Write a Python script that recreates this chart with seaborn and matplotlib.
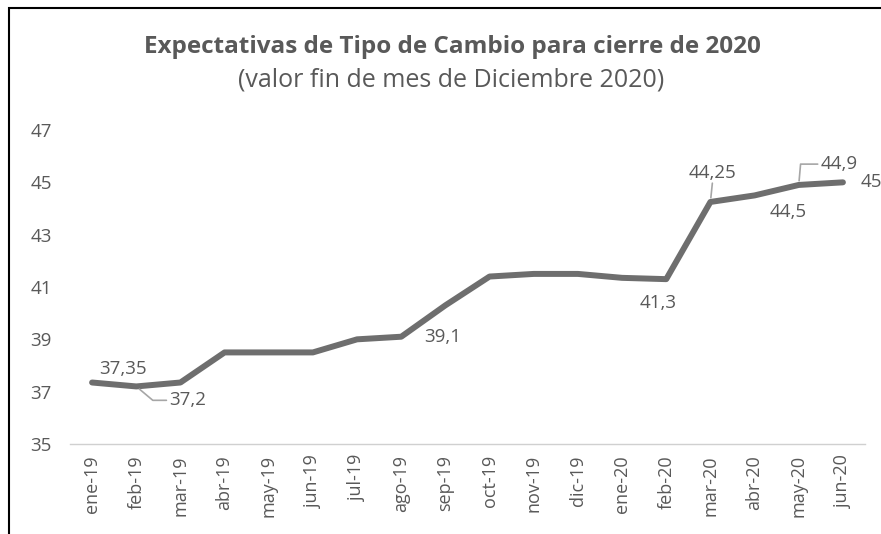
import matplotlib
matplotlib.use('Agg')
import matplotlib.pyplot as plt
import matplotlib.patches as mpatches
import pandas as pd
import seaborn as sns

months = ['ene-19', 'feb-19', 'mar-19', 'abr-19', 'may-19', 'jun-19', 'jul-19', 'ago-19',
          'sep-19', 'oct-19', 'nov-19', 'dic-19', 'ene-20', 'feb-20', 'mar-20', 'abr-20',
          'may-20', 'jun-20']
values = [37.35, 37.2, 37.35, 38.5, 38.5, 38.5, 39.0, 39.1, 40.3, 41.4, 41.5, 41.5,
          41.35, 41.3, 44.25, 44.5, 44.9, 45.0]
yticks = [35, 37, 39, 41, 43, 45, 47]

GREY = '#595959'
LINE = '#6e6e6e'
LEADER = '#a6a6a6'

sns.set_style('white')
plt.rcParams['font.family'] = ['Open Sans', 'DejaVu Sans']

df = pd.DataFrame({'mes': months, 'valor': values})

fig = plt.figure(figsize=(8.81, 5.34), dpi=100)
ax = fig.add_axes([70 / 881, 1 - 444 / 534, 795 / 881, (444 - 130) / 534])

sns.lineplot(data=df, x='mes', y='valor', ax=ax, color=LINE, linewidth=4.3, sort=False)

ax.set_ylim(35, 47)
ax.set_xlim(-0.5, len(months) - 0.5)
ax.set_yticks(yticks)
ax.set_yticklabels([str(t) for t in yticks], fontsize=13.5, color=GREY)
ax.set_xticks(range(len(months)))
ax.set_xticklabels(months, rotation=90, fontsize=13, color=GREY)
ax.tick_params(axis='y', length=0, pad=13)
ax.tick_params(axis='x', length=0, pad=8)
ax.set_xlabel('')
ax.set_ylabel('')
for side in ['top', 'right', 'left']:
    ax.spines[side].set_visible(False)
ax.spines['bottom'].set_color('#d0d0d0')
ax.spines['bottom'].set_linewidth(1.0)

# data labels (Excel-like placement)
lab = dict(fontsize=13.5, color=GREY, ha='center', va='center', textcoords='offset points')
ax.annotate('37,35', (0, values[0]), xytext=(22, 10), **lab)
ax.annotate('37,2', (1, values[1]), xytext=(37, -10),
            arrowprops=dict(arrowstyle='-', color=LEADER, lw=1.2, patchA=None, relpos=(0, 0.5),
                            shrinkA=2, shrinkB=3,
                            connectionstyle='angle,angleA=0,angleB=-40,rad=0'), **lab)
ax.annotate('39,1', (7, values[7]), xytext=(30, 0), **lab)
ax.annotate('41,3', (13, values[13]), xytext=(-6, -17), **lab)
ax.annotate('44,25', (14, values[14]), xytext=(1.5, 21),
            arrowprops=dict(arrowstyle='-', color=LEADER, lw=1.2, patchA=None, relpos=(0.5, 0),
                            shrinkA=1, shrinkB=3), **lab)
ax.annotate('44,5', (15, values[15]), xytext=(24, -12), **lab)
ax.annotate('44,9', (16, values[16]), xytext=(29, 15),
            arrowprops=dict(arrowstyle='-', color=LEADER, lw=1.2, patchA=None, relpos=(0, 0.5),
                            shrinkA=2, shrinkB=3,
                            connectionstyle='angle,angleA=0,angleB=85,rad=0'), **lab)
ax.annotate('45', (17, values[17]), xytext=(13, 0), textcoords='offset points', ha='left', va='center',
            fontsize=13.5, color=GREY, annotation_clip=False)

fig.text(452 / 881, 1 - 47 / 534, 'Expectativas de Tipo de Cambio para cierre de 2020', ha='center', va='center',
         fontsize=17.5, fontweight='bold', color=GREY)
fig.text(451 / 881, 1 - 80 / 534, '(valor fin de mes de Diciembre 2020)', ha='center', va='center',
         fontsize=18, color=GREY)

# chart frame (cropped screenshot: left and top edges visible)
fig.patches.append(mpatches.Rectangle((9 / 881, -0.1), 1.2, 1 - 8 / 534 + 0.1, transform=fig.transFigure,
                                      fill=False, edgecolor='black', linewidth=1.5))

fig.savefig('out.png', dpi=100)
